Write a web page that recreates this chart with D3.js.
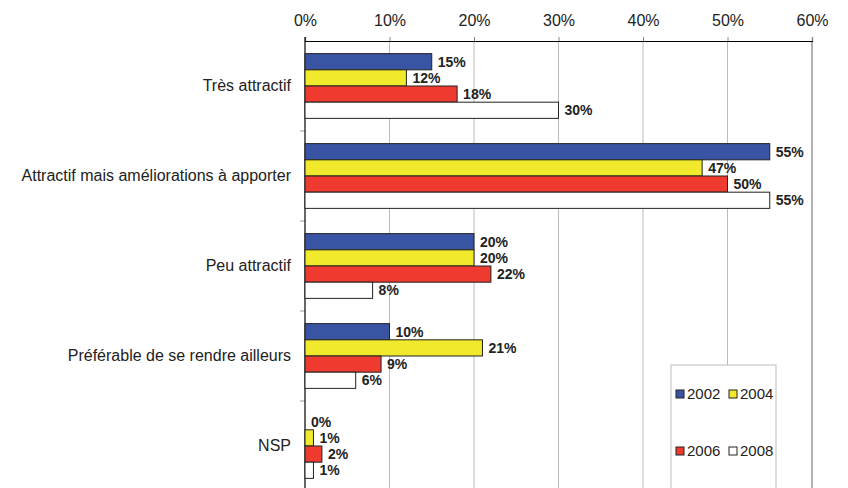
<!DOCTYPE html>
<html><head><meta charset="utf-8">
<script src="https://cdn.jsdelivr.net/npm/d3@7/dist/d3.min.js"></script>
<style>body{margin:0;background:#fff;}svg{display:block;font-family:"Liberation Sans",Arial,sans-serif;}</style>
</head><body><svg id="c" width="848" height="488"></svg>
<script>
const categories = ["Très attractif","Attractif mais améliorations à apporter","Peu attractif","Préférable de se rendre ailleurs","NSP"];
const seriesNames = ["2002","2004","2006","2008"];
const values2002 = [15,55,20,10,0];
const values2004 = [12,47,20,21,1];
const values2006 = [18,50,22,9,2];
const values2008 = [30,55,8,6,1];
const tickValues = [0,10,20,30,40,50,60];
const colors = ["#3a54a4","#f0e92c","#ee3a2f","#ffffff"];

(function(){
const allSeries = [values2002,values2004,values2006,values2008];
const svg = d3.select("#c");
const pl = 305, pr = 812, pt = 41, pb = 491;
const x = d3.scaleLinear().domain([0,60]).range([pl,pr]);
const y = d3.scaleBand().domain(categories).range([pt,pb]);
const y1 = d3.scaleBand().domain(seriesNames).range([0,y.bandwidth()]).paddingOuter(0.78);

// gridlines
svg.append("g").selectAll("line").data(tickValues.slice(1)).join("line")
  .attr("x1",d=>x(d)).attr("x2",d=>x(d)).attr("y1",pt).attr("y2",pb)
  .attr("stroke",d=>d===60?"#999":"#bbb").attr("stroke-width",d=>d===60?1.5:1);

// top axis
const ax = svg.append("g").attr("transform",`translate(0,${pt})`)
  .call(d3.axisTop(x).tickValues(tickValues).tickFormat(d=>d+"%").tickSize(4).tickPadding(11));
ax.select(".domain").attr("stroke","#000").attr("stroke-width",1.2);
ax.selectAll(".tick line").attr("stroke","#888");
ax.selectAll("text").attr("font-size",16).attr("fill","#222").attr("font-family","Liberation Sans, Arial, sans-serif");

// left axis
const ay = svg.append("g").attr("transform",`translate(${pl},0)`)
  .call(d3.axisLeft(y).tickSize(0).tickPadding(14));
ay.select(".domain").remove();
ay.selectAll("text").attr("font-size",16).attr("fill","#222").attr("font-family","Liberation Sans, Arial, sans-serif");
svg.append("g").selectAll("line").data(categories.slice(1)).join("line")
  .attr("x1",pl-5).attr("x2",pl).attr("y1",d=>y(d)).attr("y2",d=>y(d)).attr("stroke","#999");
svg.append("line").attr("x1",pl).attr("x2",pl).attr("y1",pt-4).attr("y2",pb).attr("stroke","#000").attr("stroke-width",1.2);

// bars
categories.forEach((c,ci)=>{
  const g = svg.append("g").attr("transform",`translate(0,${y(c)})`);
  seriesNames.forEach((s,si)=>{
    const v = allSeries[si][ci];
    if(v>0){
      g.append("rect").attr("x",x(0)).attr("y",y1(s)).attr("width",x(v)-x(0)).attr("height",y1.bandwidth())
        .attr("fill",colors[si]).attr("stroke","#222").attr("stroke-width",1);
    }
    g.append("text").attr("x",x(v)+6).attr("y",y1(s)+y1.bandwidth()/2).attr("dy","0.36em")
      .attr("font-size",14).attr("font-weight","bold").attr("fill","#222").text(v+"%");
  });
});

// legend
const lg = svg.append("g");
lg.append("rect").attr("x",671).attr("y",365).attr("width",105).attr("height",140)
  .attr("fill","#fff").attr("stroke","#bbb");
const pos = [[676,394],[729,394],[676,451],[729,451]];
seriesNames.forEach((s,i)=>{
  lg.append("rect").attr("x",pos[i][0]).attr("y",pos[i][1]-4).attr("width",8).attr("height",8)
    .attr("fill",colors[i]).attr("stroke","#222");
  lg.append("text").attr("x",pos[i][0]+11).attr("y",pos[i][1]).attr("dy","0.36em")
    .attr("font-size",15).attr("fill","#222").text(s);
});
})();
</script></body></html>
